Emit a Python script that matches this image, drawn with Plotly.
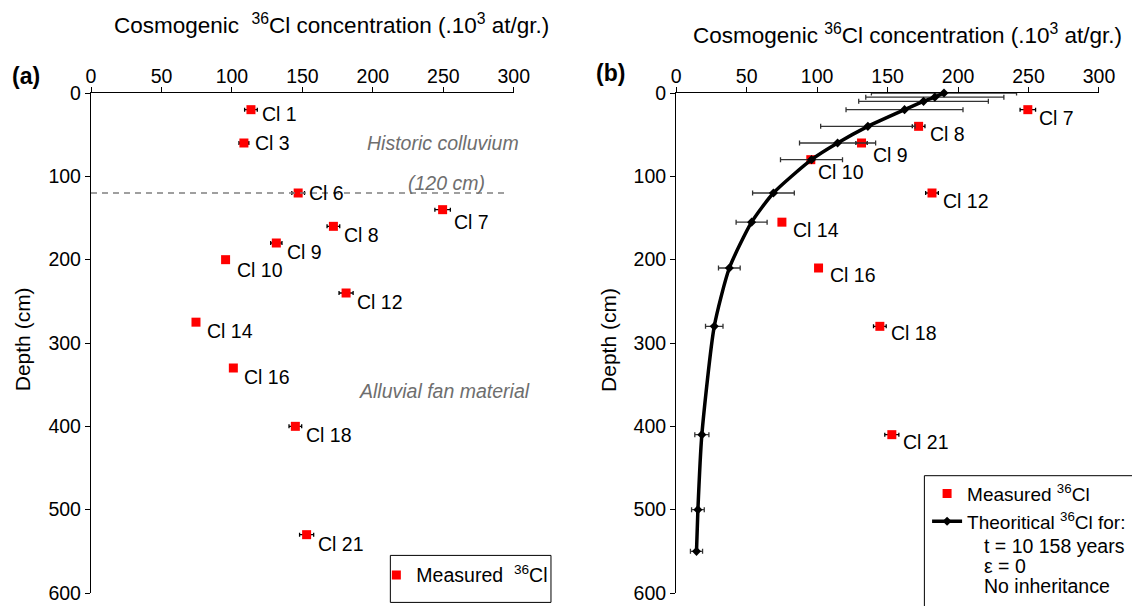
import plotly.graph_objects as go

# ---------------- data ----------------
# Panel (a): measured 36Cl vs depth (full profile)
labels_a = ["Cl 1", "Cl 3", "Cl 6", "Cl 7", "Cl 8", "Cl 9", "Cl 10", "Cl 12", "Cl 14", "Cl 16", "Cl 18", "Cl 21"]
depth_a = [20, 60, 120, 140, 160, 180, 200, 240, 275, 330, 400, 530]
conc_a = [113.5, 108.5, 147, 249.5, 172, 131.5, 95.5, 181, 74.5, 101, 145, 153]
err_a = [4.5, 3.5, 4.5, 5.5, 4.5, 4, 2, 5, 2, 2, 4.5, 5]

# Panel (b): measured 36Cl below the colluvium (depth re-referenced)
labels_b = ["Cl 7", "Cl 8", "Cl 9", "Cl 10", "Cl 12", "Cl 14", "Cl 16", "Cl 18", "Cl 21"]
depth_b = [20, 40, 60, 80, 120, 155, 210, 280, 410]
conc_b = [249.5, 172, 131.5, 95.5, 181.5, 75, 101, 144.5, 153]
err_b = [5.5, 4.5, 4, 2, 4.5, 2, 2, 4.5, 5]

# Panel (b): theoretical profile
theo_depth = [0, 5, 10, 20, 40, 60, 80, 120, 155, 210, 280, 410, 500, 550]
theo_conc = [190, 183.5, 175.5, 162, 136, 114.5, 96, 69, 53.5, 37.7, 27, 18.2, 15.4, 14.4]
theo_err = [51.5, 49, 46, 41.5, 33.5, 27, 22, 14.8, 11, 7.7, 6.2, 5, 4.5, 4.3]

x_ticks = [0, 50, 100, 150, 200, 250, 300]
y_ticks = [0, 100, 200, 300, 400, 500, 600]
colluvium_depth = 120
colluvium_line_end = 295

# ---------------- styling ----------------
FONT = "Liberation Sans, Arial, sans-serif"
RED = "#FF0000"
GRAY = "#6E6E6E"
label_dy_a = [-4, 0, 0, -12, -9, -9, -10, -9, -9, -9, -9, -9]
label_dy_b = [-8, -8, -12, -12, -8, -8, -7, -7, -7]
label_dx_b = [9, 9, 9, 5, 9, 9, 9, 9, 9]

# plot area in pixels: left 90.5, right 1099, top 93.3, bottom 593.3
W, H = 1132, 606
L, R, T, B = 90.5, 1099.0, 93.3, 593.3


def px(xp):
    return (xp - L) / (R - L)


def py(yp):
    return (B - yp) / (B - T)


fig = go.Figure()

# Panel (a) measured
fig.add_trace(go.Scatter(
    x=conc_a, y=depth_a, mode="markers", name="Measured&nbsp;&nbsp;<sup>36</sup>Cl",
    marker=dict(symbol="square", size=9, color=RED),
    error_x=dict(type="data", array=err_a, color="black", thickness=1.3, width=2),
    xaxis="x", yaxis="y", legend="legend", cliponaxis=False,
))

# Panel (b) measured
fig.add_trace(go.Scatter(
    x=conc_b, y=depth_b, mode="markers", name="Measured <sup>36</sup>Cl",
    marker=dict(symbol="square", size=9, color=RED),
    error_x=dict(type="data", array=err_b, color="black", thickness=1.3, width=2),
    xaxis="x2", yaxis="y2", legend="legend2", cliponaxis=False,
))

# Panel (b) theoretical
fig.add_trace(go.Scatter(
    x=theo_conc, y=theo_depth, mode="lines+markers", name="Theoritical <sup>36</sup>Cl for:",
    line=dict(color="black", width=3.5, shape="spline", smoothing=0.6),
    marker=dict(symbol="diamond", size=7, color="black"),
    error_x=dict(type="data", array=theo_err, color="#333333", thickness=1.3, width=2.5),
    xaxis="x2", yaxis="y2", legend="legend2", cliponaxis=False,
))

LABEL_SIZE = 19.5
annotations = []
for lab, xv, yv, dy in zip(labels_a, conc_a, depth_a, label_dy_a):
    annotations.append(dict(x=xv, y=yv, xref="x", yref="y", text=lab, showarrow=False,
                            xanchor="left", yanchor="middle", xshift=9, yshift=dy,
                            font=dict(size=LABEL_SIZE, color="black", family=FONT)))
for lab, xv, yv, dx, dy in zip(labels_b, conc_b, depth_b, label_dx_b, label_dy_b):
    annotations.append(dict(x=xv, y=yv, xref="x2", yref="y2", text=lab, showarrow=False,
                            xanchor="left", yanchor="middle", xshift=dx, yshift=dy,
                            font=dict(size=LABEL_SIZE, color="black", family=FONT)))

annotations += [
    dict(x=px(331), y=py(24), xref="paper", yref="paper",
         text="Cosmogenic&nbsp;&nbsp;<sup>36</sup>Cl concentration (.10<sup>3</sup> at/gr.)", showarrow=False,
         xanchor="center", yanchor="middle", font=dict(size=22.5, family=FONT, color="black")),
    dict(x=px(907.5), y=py(34), xref="paper", yref="paper",
         text="Cosmogenic <sup>36</sup>Cl concentration (.10<sup>3</sup> at/gr.)", showarrow=False,
         xanchor="center", yanchor="middle", font=dict(size=22.5, family=FONT, color="black")),
    dict(x=px(25), y=py(76), xref="paper", yref="paper", text="<b>(a)</b>", showarrow=False,
         xanchor="center", yanchor="middle", font=dict(size=23, family=FONT, color="black")),
    dict(x=px(610), y=py(73), xref="paper", yref="paper", text="<b>(b)</b>", showarrow=False,
         xanchor="center", yanchor="middle", font=dict(size=23, family=FONT, color="black")),
    dict(x=px(22), y=py(340), xref="paper", yref="paper", text="Depth (cm)", showarrow=False,
         textangle=-90, xanchor="center", yanchor="middle", font=dict(size=21, family=FONT, color="black")),
    dict(x=px(608), y=py(340), xref="paper", yref="paper", text="Depth (cm)", showarrow=False,
         textangle=-90, xanchor="center", yanchor="middle", font=dict(size=21, family=FONT, color="black")),
    dict(x=px(443), y=py(143), xref="paper", yref="paper", text="<i>Historic colluvium</i>", showarrow=False,
         xanchor="center", yanchor="middle", font=dict(size=19.5, family=FONT, color=GRAY)),
    dict(x=px(446), y=py(183), xref="paper", yref="paper", text="<i>(120 cm)</i>", showarrow=False,
         xanchor="center", yanchor="middle", font=dict(size=19.5, family=FONT, color=GRAY)),
    dict(x=px(444), y=py(391), xref="paper", yref="paper", text="<i>Alluvial fan material</i>", showarrow=False,
         xanchor="center", yanchor="middle", font=dict(size=19.5, family=FONT, color=GRAY)),
    dict(x=px(981.5), y=py(546.5), xref="paper", yref="paper", text="t = 10 158 years", showarrow=False,
         xanchor="left", yanchor="middle", font=dict(size=19.5, family=FONT, color="black")),
    dict(x=px(981.5), y=py(566.5), xref="paper", yref="paper", text="ε = 0", showarrow=False,
         xanchor="left", yanchor="middle", font=dict(size=19.5, family=FONT, color="black")),
    dict(x=px(981.5), y=py(586.5), xref="paper", yref="paper", text="No inheritance", showarrow=False,
         xanchor="left", yanchor="middle", font=dict(size=19.5, family=FONT, color="black")),
]

shapes = [
    dict(type="line", xref="x", yref="y", x0=0, x1=colluvium_line_end, y0=colluvium_depth, y1=colluvium_depth,
         line=dict(color="#808080", width=1.3, dash="6px,5px")),
    dict(type="rect", xref="paper", yref="paper", x0=px(390), x1=px(550.7), y0=py(555.7), y1=py(602.7),
         line=dict(color="black", width=1), fillcolor="rgba(0,0,0,0)"),
    dict(type="rect", xref="paper", yref="paper", x0=px(924.3), x1=px(1150), y0=py(476), y1=py(630),
         line=dict(color="black", width=1), fillcolor="rgba(0,0,0,0)"),
]

xa_common = dict(range=[0, 300], tickvals=x_ticks, side="top", showline=True, linecolor="black",
                 linewidth=1.3, ticks="outside", ticklen=5, tickcolor="black", tickwidth=1,
                 showgrid=False, zeroline=False, tickfont=dict(size=19.5, family=FONT, color="black"),
                 fixedrange=True, automargin=False, ticklabelposition="outside",
                 ticklabelstandoff=-4)
ya_common = dict(range=[600, 0], tickvals=y_ticks, showline=True, linecolor="black",
                 linewidth=1.3, ticks="outside", ticklen=5, tickcolor="black", tickwidth=1,
                 showgrid=False, zeroline=False, tickfont=dict(size=19.5, family=FONT, color="black"),
                 fixedrange=True, automargin=False)

fig.update_layout(
    template="none",
    width=W, height=H,
    margin=dict(l=L, r=W - R, t=T, b=H - B, pad=0, autoexpand=False),
    paper_bgcolor="white", plot_bgcolor="white",
    font=dict(family=FONT, color="black"),
    xaxis=dict(domain=[0, px(513.5)], anchor="y", **xa_common),
    yaxis=dict(domain=[0, 1], anchor="x", **ya_common),
    xaxis2=dict(domain=[px(676), 1], anchor="y2", **xa_common),
    yaxis2=dict(domain=[0, 1], anchor="x2", **ya_common),
    showlegend=True,
    legend=dict(x=px(376), y=py(556), xanchor="left", yanchor="top", bgcolor="rgba(0,0,0,0)",
                borderwidth=0, font=dict(size=19.5, family=FONT, color="black"), itemclick=False),
    legend2=dict(x=px(927), y=py(475), xanchor="left", yanchor="top", bgcolor="rgba(0,0,0,0)",
                 borderwidth=0, font=dict(size=19, family=FONT, color="black"), itemclick=False,
                 tracegroupgap=0),
    annotations=annotations,
    shapes=shapes,
)

fig.write_html(
    "out.html",
    config={"displayModeBar": False},
    post_script="document.body.style.margin='0';document.body.style.overflow='hidden';",
)
